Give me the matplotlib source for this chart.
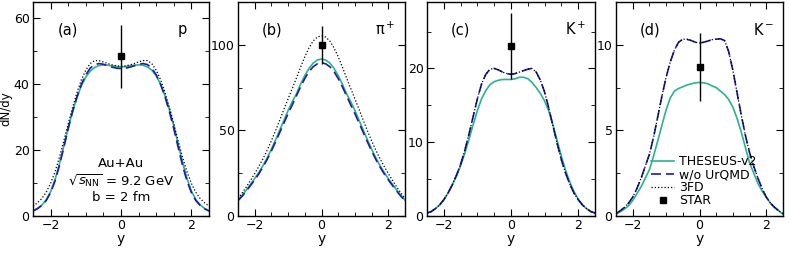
import numpy as np
import matplotlib
matplotlib.use("Agg")
import matplotlib.pyplot as plt
from matplotlib.ticker import MultipleLocator
from matplotlib.lines import Line2D

# rapidity grid
y = [-2.5, -2.375, -2.25, -2.125, -2.0, -1.875, -1.75, -1.625, -1.5, -1.375,
     -1.25, -1.125, -1.0, -0.875, -0.75, -0.625, -0.5, -0.375, -0.25, -0.125,
     0.0, 0.125, 0.25, 0.375, 0.5, 0.625, 0.75, 0.875, 1.0, 1.125,
     1.25, 1.375, 1.5, 1.625, 1.75, 1.875, 2.0, 2.125, 2.25, 2.375, 2.5]

# (a) protons
p_theseus = [1.6, 2.3, 3.3, 4.9, 7.4, 11.0, 15.8, 21.2, 26.8, 31.8,
             36.0, 39.6, 42.2, 44.0, 45.1, 45.7, 45.9, 45.8, 45.6, 45.4,
             45.3, 45.4, 45.6, 45.8, 45.9, 45.8, 45.3, 44.3, 42.6, 40.0,
             36.5, 32.3, 27.4, 21.8, 16.3, 11.4, 7.6, 5.0, 3.4, 2.3, 1.6]
p_wo = [1.5, 2.2, 3.2, 4.7, 7.1, 10.6, 15.3, 20.8, 26.5, 31.7,
        36.2, 40.0, 42.9, 44.9, 46.0, 46.3, 46.1, 45.6, 45.2, 44.9,
        44.8, 44.9, 45.2, 45.6, 46.1, 46.3, 46.0, 44.9, 42.9, 40.0,
        36.2, 31.7, 26.5, 20.8, 15.3, 10.6, 7.1, 4.7, 3.2, 2.2, 1.5]
p_3fd = [3.0, 4.0, 5.3, 7.2, 9.9, 13.4, 17.8, 22.8, 28.0, 33.0,
         37.5, 41.4, 44.3, 46.3, 47.2, 47.2, 46.8, 46.3, 45.9, 45.6,
         45.5, 45.6, 45.9, 46.3, 46.8, 47.2, 47.2, 46.3, 44.3, 41.4,
         37.5, 33.0, 28.0, 22.8, 17.8, 13.4, 9.9, 7.2, 5.3, 4.0, 3.0]

# (b) pi+
pi_theseus = [9.3, 12.1, 15.2, 18.5, 21.9, 25.5, 29.5, 34.0, 39.0, 44.5,
              50.2, 55.9, 61.6, 66.8, 71.4, 77.0, 82.0, 86.2, 89.3, 91.1,
              91.7, 91.1, 89.3, 86.2, 82.0, 77.0, 71.4, 66.8, 61.6, 55.9,
              50.2, 44.5, 39.0, 34.0, 29.5, 25.5, 21.9, 18.5, 15.2, 12.1, 9.3]
pi_wo = [8.9, 11.6, 14.6, 17.8, 21.1, 24.7, 28.7, 33.1, 38.0, 43.3,
         48.8, 54.3, 59.8, 64.9, 70.2, 75.5, 80.3, 84.3, 87.2, 88.9,
         89.5, 88.9, 87.2, 84.3, 80.3, 75.5, 70.2, 64.9, 59.8, 54.3,
         48.8, 43.3, 38.0, 33.1, 28.7, 24.7, 21.1, 17.8, 14.6, 11.6, 8.9]
pi_3fd = [10.3, 13.5, 17.0, 20.8, 24.8, 29.0, 33.5, 38.5, 44.0, 49.8,
          56.0, 62.3, 68.5, 74.5, 80.6, 87.0, 93.0, 98.2, 102.2, 104.5,
          105.3, 104.5, 102.2, 98.2, 93.0, 87.0, 80.6, 74.5, 68.5, 62.3,
          56.0, 49.8, 44.0, 38.5, 33.5, 29.0, 24.8, 20.8, 17.0, 13.5, 10.3]

# (c) K+
kp_theseus = [0.4, 0.6, 1.0, 1.5, 2.2, 3.1, 4.2, 5.4, 6.8, 8.5,
              10.4, 12.4, 14.3, 15.9, 17.0, 17.8, 18.2, 18.4, 18.5, 18.5,
              18.5, 18.6, 18.8, 18.8, 18.6, 18.1, 17.4, 16.6, 15.6, 14.2,
              12.3, 10.2, 8.1, 6.2, 4.6, 3.3, 2.3, 1.5, 1.0, 0.6, 0.4]
kp_wo = [0.4, 0.6, 1.0, 1.5, 2.2, 3.1, 4.2, 5.5, 7.0, 8.9,
         11.1, 13.5, 15.9, 17.9, 19.2, 19.9, 20.0, 19.8, 19.5, 19.3,
         19.2, 19.3, 19.5, 19.7, 19.9, 20.0, 19.5, 18.4, 16.8, 14.6,
         12.2, 9.8, 7.6, 5.8, 4.3, 3.1, 2.2, 1.5, 1.0, 0.6, 0.4]
kp_3fd = [0.4, 0.6, 1.0, 1.5, 2.2, 3.1, 4.2, 5.5, 7.0, 8.9,
          11.1, 13.5, 15.9, 17.9, 19.2, 19.9, 20.0, 19.8, 19.5, 19.3,
          19.2, 19.3, 19.5, 19.7, 19.9, 20.0, 19.5, 18.4, 16.8, 14.6,
          12.2, 9.8, 7.6, 5.8, 4.3, 3.1, 2.2, 1.5, 1.0, 0.6, 0.4]

# (d) K-
km_theseus = [0.1, 0.25, 0.4, 0.6, 0.9, 1.3, 1.7, 2.2, 2.7, 3.5,
              4.4, 5.3, 6.2, 6.9, 7.3, 7.45, 7.55, 7.65, 7.72, 7.78,
              7.8, 7.78, 7.72, 7.6, 7.5, 7.3, 7.1, 6.8, 6.35, 5.7,
              4.9, 4.0, 3.1, 2.5, 1.9, 1.45, 1.1, 0.75, 0.5, 0.3, 0.1]
km_wo = [0.15, 0.3, 0.5, 0.75, 1.1, 1.6, 2.2, 2.9, 3.6, 4.6,
         5.8, 7.0, 8.1, 9.0, 9.7, 10.15, 10.33, 10.32, 10.25, 10.15,
         10.1, 10.15, 10.22, 10.3, 10.33, 10.35, 10.25, 9.6, 8.5, 7.2,
         5.9, 4.7, 3.7, 2.9, 2.2, 1.6, 1.1, 0.75, 0.5, 0.3, 0.15]
km_3fd = [0.15, 0.3, 0.5, 0.75, 1.1, 1.6, 2.2, 2.9, 3.6, 4.6,
          5.8, 7.0, 8.1, 9.0, 9.7, 10.15, 10.33, 10.32, 10.25, 10.15,
          10.1, 10.15, 10.22, 10.3, 10.33, 10.35, 10.25, 9.6, 8.5, 7.2,
          5.9, 4.7, 3.7, 2.9, 2.2, 1.6, 1.1, 0.75, 0.5, 0.3, 0.15]

# STAR data at y = 0
star_val = [48.5, 100.0, 23.0, 8.7]
star_err = [9.5, 11.0, 4.5, 2.0]

labels = ["(a)", "(b)", "(c)", "(d)"]
particles = ["p", "\u03c0$^+$", "K$^+$", "K$^-$"]
ylims = [65, 125, 29, 12.5]
ymajor = [20, 50, 10, 5]
yminor = [10, 25, 5, 2.5]

theseus = [p_theseus, pi_theseus, kp_theseus, km_theseus]
wo = [p_wo, pi_wo, kp_wo, km_wo]
fd3 = [p_3fd, pi_3fd, kp_3fd, km_3fd]

green = "#2bb38b"
blue = "#1c1ca8"

fig = plt.figure(figsize=(7.89, 2.58), dpi=100)
W, H = 789, 258
# axes boxes in pixels: left, right
boxes = [(33, 209), (238, 405), (427, 595), (616, 783)]
axes = []
for l, r in boxes:
    ax = fig.add_axes([l / W, (H - 216) / H, (r - l) / W, 214 / H])
    axes.append(ax)

for i, ax in enumerate(axes):
    ax.plot(y, theseus[i], color=green, lw=1.2)
    ax.plot(y, wo[i], color=blue, lw=1.2, ls=(0, (6, 3)))
    ax.plot(y, fd3[i], color="black", lw=0.9, ls=(0, (1, 1.6)))
    ax.errorbar([0], [star_val[i]], yerr=[star_err[i]], fmt="s", color="black",
                ms=5, elinewidth=1.0, capsize=0)
    ax.set_xlim(-2.5, 2.5)
    ax.set_ylim(0, ylims[i])
    ax.xaxis.set_minor_locator(MultipleLocator(0.5))
    ax.yaxis.set_major_locator(MultipleLocator(ymajor[i]))
    ax.yaxis.set_minor_locator(MultipleLocator(yminor[i]))
    ax.tick_params(which="both", direction="in", top=True, right=True, labelsize=9, pad=2.5)
    ax.tick_params(which="major", length=5)
    ax.tick_params(which="minor", length=3)
    ax.set_xticks([-2, 0, 2])
    ax.set_xticklabels(["\u22122", "0", "2"])
    ax.set_xlabel("y", fontsize=10, labelpad=0)
    ax.text(0.14, 0.87, labels[i], transform=ax.transAxes, fontsize=10.5, va="center")
    ax.text(0.82, 0.87, particles[i], transform=ax.transAxes, fontsize=10.5, va="center")
    for sp in ax.spines.values():
        sp.set_linewidth(1.0)

axes[0].set_ylabel("dN/dy", fontsize=8.5, labelpad=1)
axes[0].text(0.5, 0.165, "Au+Au\n" + r"$\sqrt{s_{\rm NN}}$ = 9.2 GeV" + "\nb = 2 fm",
             transform=axes[0].transAxes, ha="center", va="center", fontsize=9.5,
             linespacing=1.15)

handles = [Line2D([], [], color=green, lw=1.2),
           Line2D([], [], color=blue, lw=1.2, ls=(0, (6, 3))),
           Line2D([], [], color="black", lw=0.9, ls=(0, (1, 1.6))),
           Line2D([], [], color="black", marker="s", ms=5, ls="none")]
axes[3].legend(handles, ["THESEUS-v2", "w/o UrQMD", "3FD", "STAR"],
               loc="lower left", bbox_to_anchor=(0.16, 0.0),
               frameon=False, fontsize=9, handlelength=1.8, handletextpad=0.4,
               labelspacing=0.0, borderpad=0.2)

fig.savefig("out.png", dpi=100)
